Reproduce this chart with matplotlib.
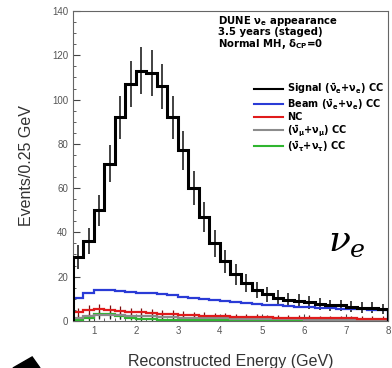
import numpy as np
import matplotlib.pyplot as plt
from matplotlib.patches import Polygon
from matplotlib.ticker import MultipleLocator

plt.rcParams['font.family'] = ['Liberation Sans', 'DejaVu Sans']
plt.rcParams['mathtext.default'] = 'regular'

# reconstructed energy bins, 0.25 GeV wide
edges = np.arange(0.5, 8.0001, 0.25)

signal = [29, 36, 50, 71, 92, 107, 113, 112, 106, 92, 77, 60, 47, 35, 27,
          21, 17, 14, 12, 10.5, 9.5, 9, 8.5, 7.5, 7, 7, 6.5, 6, 6, 5.5]
beam = [10.5, 12.5, 14, 14, 13.5, 13, 12.5, 12.5, 12, 11.5, 11, 10.5, 10, 9.5, 9,
        8.5, 8, 7.7, 7.3, 7, 6.8, 6.5, 6.2, 6, 5.8, 5.6, 5.4, 5.2, 5, 4.8]
nc = [4, 5, 5.5, 5, 4.5, 4, 3.8, 3.5, 3.2, 3, 2.8, 2.6, 2.4, 2.2, 2,
      1.9, 1.8, 1.7, 1.6, 1.5, 1.4, 1.3, 1.3, 1.2, 1.2, 1.1, 1.1, 1, 1, 1]
numu = [1.5, 2, 2.5, 2.5, 2.5, 2.2, 2, 2, 1.8, 1.6, 1.5, 1.4, 1.3, 1.2, 1.1,
        1.0, 0.9, 0.9, 0.8, 0.8, 0.7, 0.7, 0.6, 0.6, 0.6, 0.5, 0.5, 0.5, 0.5, 0.5]
nutau = [0.3, 1.2, 3, 3, 2.2, 1.5, 1, 0.8, 0.6, 0.5, 0.4, 0.4, 0.3, 0.3, 0.3,
         0.3, 0.2, 0.2, 0.2, 0.2, 0.2, 0.2, 0.2, 0.2, 0.2, 0.2, 0.2, 0.2, 0.2, 0.2]

labels = [r'Signal ($\bar{\nu}_e$+$\nu_e$) CC',
          r'Beam ($\bar{\nu}_e$+$\nu_e$) CC',
          'NC',
          r'($\bar{\nu}_\mu$+$\nu_\mu$) CC',
          r'($\bar{\nu}_\tau$+$\nu_\tau$) CC']
colors = ['black', '#2a3bd6', '#e01b1b', '#8c8c8c', '#2fb52f']
err_colors = ['#333333', None, '#7a1010', '#222222', '#1a7a1a']
series = [signal, beam, nc, numu, nutau]
widths = [2.2, 1.6, 1.6, 1.6, 1.6]

fig = plt.figure(figsize=(3.92, 3.68), dpi=100)
ax = fig.add_axes([0.186, 0.128, 0.804, 0.842])

centers = 0.5 * (edges[:-1] + edges[1:])
handles = []
# draw background first, signal on top
for vals, col, ecol, lw, lab in list(zip(series, colors, err_colors, widths, labels))[::-1]:
    vals = np.array(vals)
    if ecol is not None:
        ax.errorbar(centers, vals, yerr=np.sqrt(vals), fmt='none', ecolor=ecol,
                    elinewidth=1.3 if col == 'black' else 0.9, capsize=0, zorder=2)
    handles.append(ax.stairs(vals, edges, color=col, lw=lw, label=lab, zorder=3))

ax.set_xlim(0.5, 8)
ax.set_ylim(0, 140)
ax.xaxis.set_major_locator(MultipleLocator(1))
ax.xaxis.set_minor_locator(MultipleLocator(0.25))
ax.yaxis.set_major_locator(MultipleLocator(20))
ax.yaxis.set_minor_locator(MultipleLocator(5))
ax.tick_params(which='both', direction='in', top=False, right=False,
               labelsize=7, labelcolor='#555555', color='#444444')
ax.tick_params(which='major', length=5)
ax.tick_params(which='minor', length=2.5)
for sp in ax.spines.values():
    sp.set_color('#666666')
    sp.set_linewidth(0.8)

ax.set_xlabel('Reconstructed Energy (GeV)', fontsize=11.5, color='#333333', labelpad=13)
ax.set_ylabel('Events/0.25 GeV', fontsize=11.5, color='#333333', labelpad=13)

ax.text(0.46, 0.99, 'DUNE $\\nu_e$ appearance\n3.5 years (staged)\nNormal MH, $\\delta_{CP}$=0',
        transform=ax.transAxes, fontsize=7.3, fontweight='bold', va='top',
        ha='left', linespacing=0.92, family='DejaVu Sans')

leg = ax.legend(handles=handles[::-1], labels=labels, loc='upper right',
                bbox_to_anchor=(1.015, 0.80), frameon=False,
                handlelength=2.9, handletextpad=0.45, labelspacing=0.08,
                prop={'weight': 'bold', 'size': 7, 'family': 'DejaVu Sans'})
for h in leg.get_patches() + leg.get_lines():
    h.set_linewidth(1.5)

ax.text(0.81, 0.225, r'$\mathit{\nu}_\mathit{e}$', transform=ax.transAxes,
        fontsize=26, math_fontfamily='dejavuserif')

# corner of the neighbouring graphic
fig.patches.append(Polygon([[0.033, 0.0], [0.082, 0.03], [0.102, 0.0]],
                           closed=True, transform=fig.transFigure,
                           color='black', figure=fig))

fig.savefig('out.png', dpi=100)
